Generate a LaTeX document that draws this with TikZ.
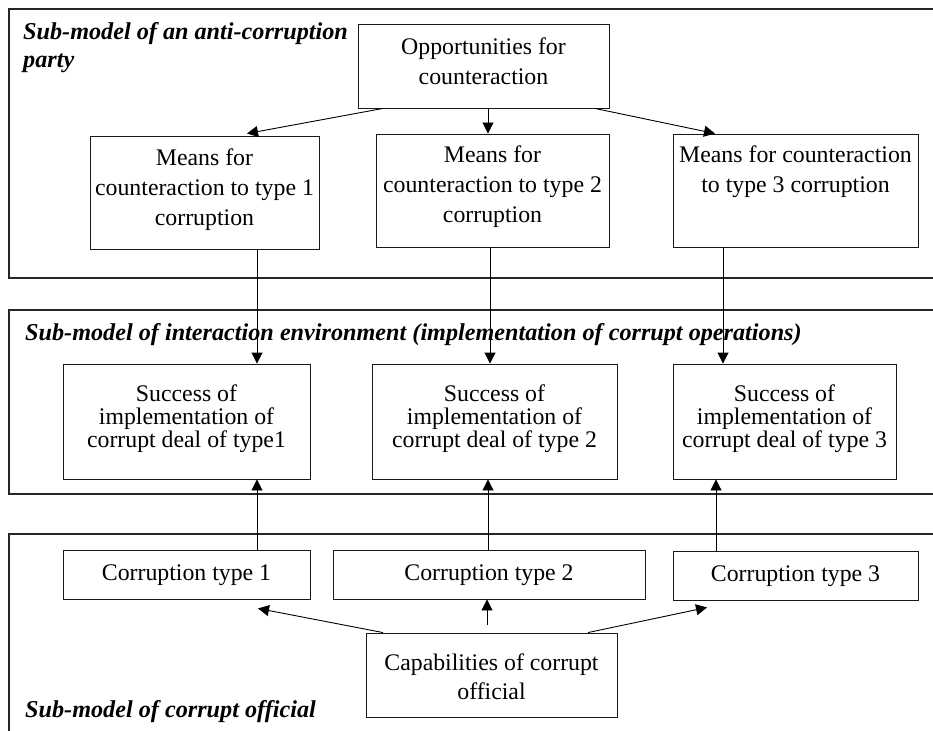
\documentclass[tikz,border=0pt]{standalone}
\usepackage{fontspec}
\setmainfont{Liberation Serif}
\usetikzlibrary{arrows.meta}
\newcommand{\ctxt}[1]{\parbox[t]{320pt}{\centering #1}}
\begin{document}
\begin{tikzpicture}[x=1pt,y=-1pt,
  panel/.style={draw=black!85, line width=1.2pt},
  boxx/.style={draw=black!90, line width=0.9pt, inner sep=0pt},
  txt/.style={inner sep=0pt, anchor=base, font=\fontsize{23.8}{29.5}\selectfont},
  txts/.style={inner sep=0pt, anchor=base, font=\fontsize{23.8}{23}\selectfont},
  ttl/.style={inner sep=0pt, anchor=base west, font=\fontsize{24.2}{28}\selectfont\bfseries\itshape},
  conn/.style={draw=black, line width=0.9pt},
  arr/.style={conn, -{Triangle[length=11pt,width=11pt]}}]
\useasboundingbox (0,0) rectangle (933,730);
\clip (0,0) rectangle (933,730);
\fill[white] (0,0) rectangle (933,730);
% panels
\draw[panel] (9,9) rectangle (945,278);
\draw[panel] (9,310) rectangle (945,494);
\draw[panel] (9,534) rectangle (945,745);
% titles
\node[ttl] (t1) at (23,40) {\parbox[t]{400pt}{\raggedright Sub-model of an anti-corruption\\party}};
\node[ttl] (t2) at (25,340) {Sub-model of interaction environment (implementation of corrupt operations)};
\node[ttl] (t3) at (25,717) {Sub-model of corrupt official};
% boxes
\node[boxx, minimum width=251pt, minimum height=84pt] (op) at (483.5,66) {};
\node[boxx, minimum width=229pt, minimum height=113pt] (m1) at (204.5,192.5) {};
\node[boxx, minimum width=233pt, minimum height=113pt] (m2) at (492.5,190.5) {};
\node[boxx, minimum width=245pt, minimum height=113pt] (m3) at (795.5,190.5) {};
\node[boxx, minimum width=247pt, minimum height=115pt] (s1) at (186.5,421.5) {};
\node[boxx, minimum width=245pt, minimum height=115pt] (s2) at (494.5,421.5) {};
\node[boxx, minimum width=223pt, minimum height=115pt] (s3) at (784.5,421.5) {};
\node[boxx, minimum width=247pt, minimum height=49pt] (c1) at (186.5,574.5) {};
\node[boxx, minimum width=312pt, minimum height=49pt] (c2) at (489,574.5) {};
\node[boxx, minimum width=245pt, minimum height=49pt] (c3) at (795.5,575.5) {};
\node[boxx, minimum width=251pt, minimum height=84pt] (cap) at (491.5,675) {};
% texts
\node[txt] (opt) at (483.5,55) {\ctxt{Opportunities for\\counteraction}};
\node[txt] (m1t) at (204.5,166) {\ctxt{Means for\\counteraction to type 1\\corruption}};
\node[txt] (m2t) at (492.5,163) {\ctxt{Means for\\counteraction to type 2\\corruption}};
\node[txt] (m3t) at (795.5,163) {\ctxt{Means for counteraction\\to type 3 corruption}};
\node[txts] (s1t) at (186.5,401) {\ctxt{Success of\\implementation of\\corrupt deal of type1}};
\node[txts] (s2t) at (494.5,401) {\ctxt{Success of\\implementation of\\corrupt deal of type 2}};
\node[txts] (s3t) at (784.5,401) {\ctxt{Success of\\implementation of\\corrupt deal of type 3}};
\node[txt] (c1t) at (186.5,580) {Corruption type 1};
\node[txt] (c2t) at (489,580) {Corruption type 2};
\node[txt] (c3t) at (795.5,581) {Corruption type 3};
\node[txt] (capt) at (491.5,670) {\ctxt{Capabilities of corrupt\\official}};
% helper coordinates
\coordinate (xa) at (383,0);
\coordinate (xb) at (247,0);
\coordinate (xc) at (488,0);
\coordinate (xd) at (595,0);
\coordinate (xe) at (715,0);
\coordinate (v1) at (257,0);
\coordinate (v2) at (490,0);
\coordinate (v3) at (723,0);
\coordinate (w1) at (257,0);
\coordinate (w2) at (488,0);
\coordinate (w3) at (716,0);
\coordinate (ba) at (383,0);
\coordinate (bb) at (258,0);
\coordinate (bm) at (487,625);
\coordinate (bc) at (588,0);
\coordinate (bd) at (707,0);
% top arrows
\draw[arr] (op.south -| xa) -- ([yshift=2pt]m1.north -| xb);
\draw[arr] (op.south -| xc) -- (m2.north -| xc);
\draw[arr] (op.south -| xd) -- (m3.north -| xe);
% means to success
\draw[arr] (m1.south -| v1) -- (s1.north -| v1);
\draw[arr] (m2.south -| v2) -- (s2.north -| v2);
\draw[arr] (m3.south -| v3) -- (s3.north -| v3);
% corruption to success
\draw[arr] (c1.north -| w1) -- (s1.south -| w1);
\draw[arr] (c2.north -| w2) -- (s2.south -| w2);
\draw[arr] (c3.north -| w3) -- (s3.south -| w3);
% capabilities to corruption
\draw[arr] (cap.north -| ba) -- ([yshift=-9pt]c1.south -| bb);
\draw[arr] (bm) -- (c2.south -| bm);
\draw[arr] (cap.north -| bc) -- ([yshift=-7pt]c3.south -| bd);
\end{tikzpicture}
\end{document}
